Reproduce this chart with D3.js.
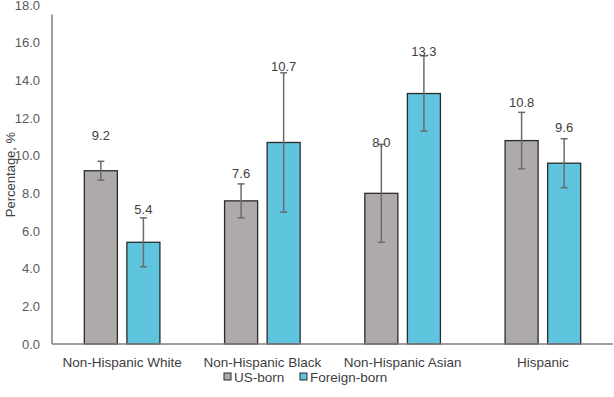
<!DOCTYPE html>
<html>
<head>
<meta charset="utf-8">
<script src="https://cdn.jsdelivr.net/npm/d3@7"></script>
<style>
  body { margin: 0; background: #fff; }
  svg { font-family: "Liberation Sans", Arial, sans-serif; }
</style>
</head>
<body>
<div id="chart"></div>
<script>
'use strict';

// data
const categories = ['Non-Hispanic White', 'Non-Hispanic Black', 'Non-Hispanic Asian', 'Hispanic'];
const series = ['US-born', 'Foreign-born'];
const usBorn = [9.2, 7.6, 8.0, 10.8];
const usBornLow = [8.7, 6.7, 5.4, 9.3];
const usBornHigh = [9.7, 8.5, 10.6, 12.3];
const foreignBorn = [5.4, 10.7, 13.3, 9.6];
const foreignBornLow = [4.1, 7.0, 11.3, 8.3];
const foreignBornHigh = [6.7, 14.4, 15.3, 10.9];
// where each value label sits (in axis units, as placed in the original)
const usBornLabelAt = [11.1, 9.07, 10.69, 12.8];
const foreignBornLabelAt = [7.17, 14.73, 15.52, 11.52];
const yTicks = [0, 2, 4, 6, 8, 10, 12, 14, 16, 18];

const colors = {'US-born': '#aeaaaa', 'Foreign-born': '#5fc4dd'};

const width = 614, height = 397;
const margin = {top: 5, right: 1, bottom: 53, left: 52};
const ctrWidth = width - margin.left - margin.right;
const ctrHeight = height - margin.top - margin.bottom;

const dataset = categories.map((c, i) => ({
  category: c,
  values: [
    {key: 'US-born', value: usBorn[i], low: usBornLow[i], high: usBornHigh[i], label: usBornLabelAt[i]},
    {key: 'Foreign-born', value: foreignBorn[i], low: foreignBornLow[i], high: foreignBornHigh[i], label: foreignBornLabelAt[i]}
  ]
}));

const svg = d3.select('#chart').append('svg')
  .attr('width', width)
  .attr('height', height);

const chart_g = svg.append('g')
  .attr('transform', `translate(${margin.left},${margin.top})`);

const outer_scale = d3.scaleBand()
  .domain(categories)
  .range([0, ctrWidth]);

const inner_scale = d3.scaleBand()
  .domain(series)
  .range([outer_scale.bandwidth() * 0.227, outer_scale.bandwidth() * 0.773])
  .paddingInner(0.2);

const y_scale = d3.scaleLinear()
  .domain([0, 18])
  .range([ctrHeight, 0]);

// y tick labels (no gridlines in the original)
chart_g.append('g')
  .selectAll('text')
  .data(yTicks)
  .join('text')
  .attr('x', -12)
  .attr('y', d => y_scale(d))
  .attr('dy', '0.35em')
  .attr('text-anchor', 'end')
  .attr('fill', '#595959')
  .style('font-size', '13px')
  .text(d => d.toFixed(1));

// bars
const groups = chart_g.append('g')
  .selectAll('g')
  .data(dataset)
  .join('g')
  .attr('transform', d => `translate(${outer_scale(d.category)},0)`);

groups.selectAll('rect')
  .data(d => d.values)
  .join('rect')
  .attr('x', d => inner_scale(d.key) + 0.5)
  .attr('y', d => y_scale(d.value))
  .attr('width', inner_scale.bandwidth() - 1)
  .attr('height', d => ctrHeight - y_scale(d.value))
  .attr('fill', d => colors[d.key])
  .attr('stroke', '#2b2b2b')
  .attr('stroke-width', 1.3);

// error bars
const err = groups.selectAll('g.err')
  .data(d => d.values)
  .join('g')
  .attr('class', 'err')
  .attr('stroke', '#6b6b6b')
  .attr('stroke-width', 1.5)
  .attr('transform', d => `translate(${inner_scale(d.key) + inner_scale.bandwidth() / 2},0)`);

err.append('line')
  .attr('y1', d => y_scale(d.low))
  .attr('y2', d => y_scale(d.high));
err.append('line')
  .attr('x1', -3.5).attr('x2', 3.5)
  .attr('y1', d => y_scale(d.low))
  .attr('y2', d => y_scale(d.low));
err.append('line')
  .attr('x1', -3.5).attr('x2', 3.5)
  .attr('y1', d => y_scale(d.high))
  .attr('y2', d => y_scale(d.high));

// value labels
groups.selectAll('text.val')
  .data(d => d.values)
  .join('text')
  .attr('class', 'val')
  .attr('x', d => inner_scale(d.key) + inner_scale.bandwidth() / 2)
  .attr('y', d => y_scale(d.label))
  .attr('dy', '0.35em')
  .attr('text-anchor', 'middle')
  .attr('fill', '#404040')
  .style('font-size', '13px')
  .text(d => d.value.toFixed(1));

// axis lines
chart_g.append('line')
  .attr('x1', 0).attr('x2', 0)
  .attr('y1', y_scale(17.5)).attr('y2', ctrHeight)
  .attr('stroke', '#7f7f7f')
  .attr('stroke-width', 1.5);
chart_g.append('line')
  .attr('x1', 0).attr('x2', ctrWidth)
  .attr('y1', ctrHeight).attr('y2', ctrHeight)
  .attr('stroke', '#7f7f7f')
  .attr('stroke-width', 1.5);

// category labels
chart_g.append('g')
  .selectAll('text')
  .data(categories)
  .join('text')
  .attr('x', d => outer_scale(d) + outer_scale.bandwidth() / 2)
  .attr('y', ctrHeight + 18)
  .attr('dy', '0.35em')
  .attr('text-anchor', 'middle')
  .attr('fill', '#404040')
  .style('font-size', '13.5px')
  .text(d => d);

// y title
svg.append('text')
  .attr('transform', `translate(10,${margin.top + ctrHeight / 2}) rotate(-90)`)
  .attr('dy', '0.35em')
  .attr('text-anchor', 'middle')
  .attr('fill', '#404040')
  .style('font-size', '13px')
  .text('Percentage, %');

// legend
const legend = svg.append('g')
  .attr('transform', `translate(224,377)`);
const legendItems = legend.selectAll('g')
  .data(series)
  .join('g')
  .attr('transform', (d, i) => `translate(${i * 76},0)`);
legendItems.append('rect')
  .attr('x', 0).attr('y', -4)
  .attr('width', 7).attr('height', 7)
  .attr('fill', d => colors[d])
  .attr('stroke', '#2b2b2b')
  .attr('stroke-width', 1);
legendItems.append('text')
  .attr('x', 10)
  .attr('y', 0)
  .attr('dy', '0.35em')
  .attr('fill', '#404040')
  .style('font-size', '13.5px')
  .text(d => d);
</script>
</body>
</html>
